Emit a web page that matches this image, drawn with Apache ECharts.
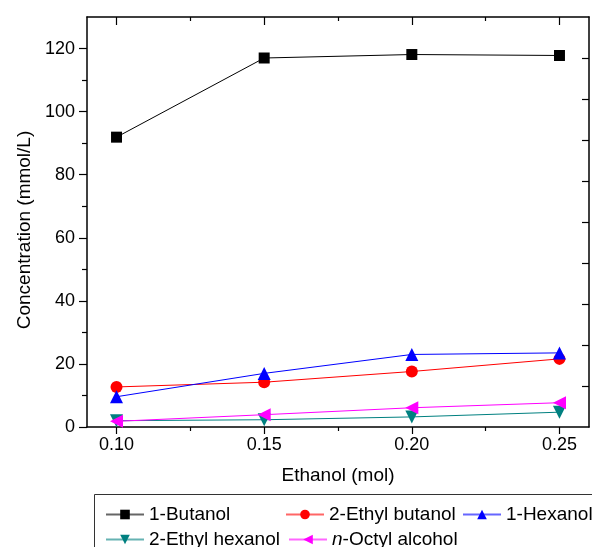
<!DOCTYPE html>
<html>
<head>
<meta charset="UTF-8">
<title>chart</title>
<script src="https://cdn.jsdelivr.net/npm/echarts@6/dist/echarts.min.js"></script>
<style>
  html, body { margin: 0; padding: 0; background: #fff; }
  #container { width: 592px; height: 547px; }
</style>
</head>
<body>
<div id="container"></div>
<script>
// ethanol amounts (mol)
const ethanol = [0.10, 0.15, 0.20, 0.25]
const xTicks = [0.10, 0.15, 0.20, 0.25]
const xMinorTicks = [0.125, 0.175, 0.225]
const yTicks = [0, 20, 40, 60, 80, 100, 120]
const yMinorTicks = [10, 30, 50, 70, 90, 110]
const rightTicks = [13, 26, 39, 52, 65, 78, 91, 104, 117]

// concentration (mmol/L)
const butanol = [91.9, 117.0, 118.1, 117.8]
const ethylButanol = [12.7, 14.2, 17.6, 21.6]
const hexanol = [9.6, 17.0, 23.0, 23.5]
const ethylHexanol = [2.0, 2.3, 3.2, 4.7]
const octylAlcohol = [1.8, 3.9, 6.1, 7.7]

const names = ['1-Butanol', '2-Ethyl butanol', '1-Hexanol', '2-Ethyl hexanol', 'n-Octyl alcohol']

const font = 'Liberation Sans, Arial, sans-serif'
const pair = vals => ethanol.map((x, i) => [x, vals[i]])

function line(name, vals, color, symbol, rotate, size) {
  return {
    name, type: 'line', data: pair(vals),
    symbol, symbolSize: size, symbolRotate: rotate,
    lineStyle: { color, width: 1 },
    itemStyle: { color },
    z: 3
  }
}

function legendItem(name, left, top) {
  return {
    data: [name], left, top, orient: 'horizontal',
    itemWidth: 38, itemHeight: 12, padding: 0,
    selectedMode: false,
    lineStyle: { opacity: 0.6 },
    textStyle: {
      fontFamily: font, fontSize: 19, color: '#000',
      rich: { i: { fontFamily: font, fontSize: 19, fontStyle: 'italic', color: '#000' } }
    },
    formatter: n => n.startsWith('n-') ? '{i|n}-Octyl alcohol' : n
  }
}

const chart = echarts.init(document.getElementById('container'))
const axisLine = { show: true, onZero: false, lineStyle: { color: '#000', width: 1.5 } }
const noLine = { show: false, onZero: false }
const tickStyle = { color: '#000', width: 1.2 }

chart.setOption({
  animation: false,
  backgroundColor: '#fff',
  grid: { left: 87, top: 17, right: 3, bottom: 120 },
  xAxis: [
    {
      type: 'value', position: 'bottom', min: 0.09, max: 0.26,
      axisLine,
      axisTick: { show: true, customValues: xTicks, length: 7, lineStyle: tickStyle },
      axisLabel: { customValues: xTicks, formatter: v => v.toFixed(2), fontFamily: font, fontSize: 18, color: '#000', margin: 9 },
      splitLine: { show: false },
      name: 'Ethanol (mol)', nameLocation: 'middle', nameGap: 39,
      nameTextStyle: { fontFamily: font, fontSize: 19, color: '#000' }
    },
    {
      type: 'value', position: 'bottom', min: 0.09, max: 0.26,
      axisLine: noLine,
      axisTick: { show: true, customValues: xMinorTicks, length: 4, lineStyle: tickStyle },
      axisLabel: { show: false }, splitLine: { show: false }
    },
    {
      type: 'value', position: 'top', min: 0.09, max: 0.26,
      axisLine,
      axisTick: { show: true, inside: true, customValues: xTicks, length: 8, lineStyle: tickStyle },
      axisLabel: { show: false }, splitLine: { show: false }
    },
    {
      type: 'value', position: 'top', min: 0.09, max: 0.26,
      axisLine: noLine,
      axisTick: { show: true, inside: true, customValues: xMinorTicks, length: 4, lineStyle: tickStyle },
      axisLabel: { show: false }, splitLine: { show: false }
    }
  ],
  yAxis: [
    {
      type: 'value', position: 'left', min: 0, max: 130,
      axisLine,
      axisTick: { show: true, customValues: yTicks, length: 8, lineStyle: tickStyle },
      axisLabel: { customValues: yTicks, fontFamily: font, fontSize: 18, color: '#000', margin: 12 },
      splitLine: { show: false },
      name: 'Concentration (mmol/L)', nameLocation: 'middle', nameGap: 52,
      nameTextStyle: { fontFamily: font, fontSize: 19, color: '#000', padding: [0, 16, 0, 0] }
    },
    {
      type: 'value', position: 'left', min: 0, max: 130,
      axisLine: noLine,
      axisTick: { show: true, customValues: yMinorTicks, length: 5, lineStyle: tickStyle },
      axisLabel: { show: false }, splitLine: { show: false }
    },
    {
      type: 'value', position: 'right', min: 0, max: 130,
      axisLine,
      axisTick: { show: true, inside: true, customValues: rightTicks, length: 7, lineStyle: tickStyle },
      axisLabel: { show: false }, splitLine: { show: false }
    }
  ],
  legend: [
    legendItem(names[0], 105, 505),
    legendItem(names[1], 285, 505),
    legendItem(names[2], 462, 505),
    legendItem(names[3], 105, 530),
    legendItem(names[4], 288, 530)
  ],
  graphic: [{
    type: 'rect', silent: true,
    shape: { x: 94.5, y: 494.5, width: 600, height: 100 },
    style: { fill: 'none', stroke: '#333', lineWidth: 1 }
  }],
  series: [
    line(names[0], butanol, '#000000', 'rect', 0, 11),
    line(names[1], ethylButanol, '#ff0000', 'circle', 0, 12),
    line(names[2], hexanol, '#0000ff', 'triangle', 0, 13),
    line(names[3], ethylHexanol, '#008080', 'triangle', 180, 13),
    line(names[4], octylAlcohol, '#ff00ff', 'triangle', 90, 13)
  ]
})
</script>
</body>
</html>
